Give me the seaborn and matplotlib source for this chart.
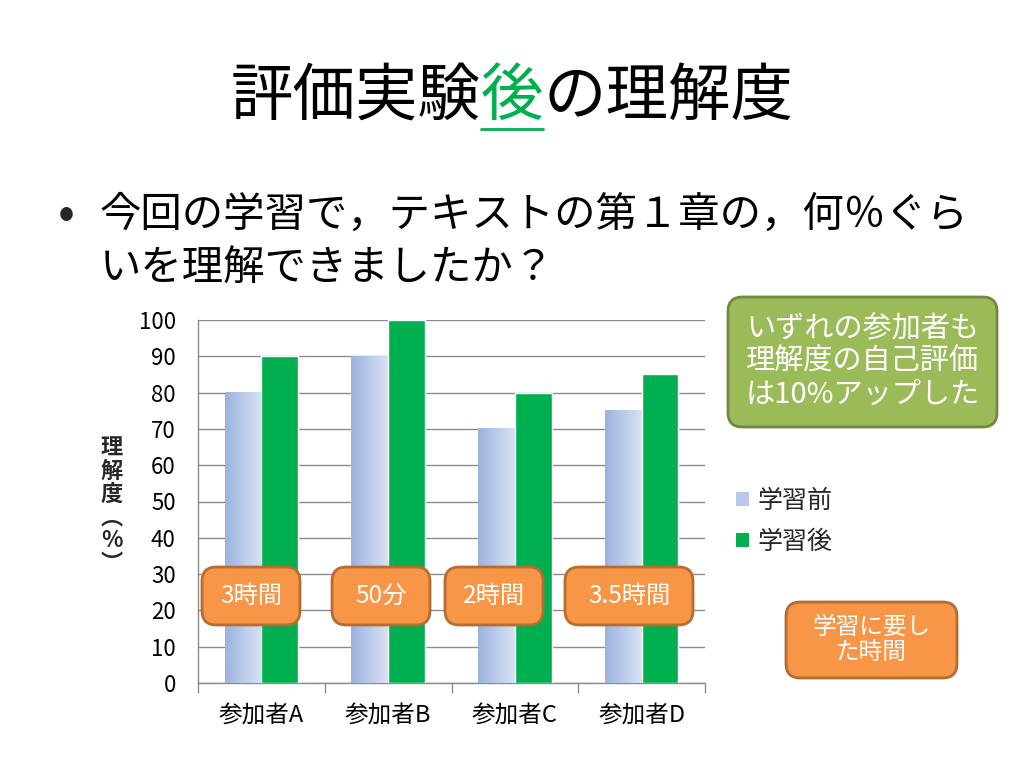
import numpy as np
import pandas as pd
import seaborn as sns
import matplotlib.pyplot as plt
from matplotlib.patches import FancyBboxPatch, Patch
from matplotlib.colors import LinearSegmentedColormap

participants = ["参加者A", "参加者B", "参加者C", "参加者D"]
before = [80, 90, 70, 75]
after = [90, 100, 80, 85]
series_names = ["学習前", "学習後"]
study_time = ["3時間", "50分", "2時間", "3.5時間"]
y_ticks = list(range(0, 101, 10))

GREEN = "#00B050"
BLUE_DARK = "#9CB2DF"
BLUE_LIGHT = "#D8E2F3"
GRID = "#8C8C8C"

df = pd.DataFrame({
    "participant": participants * 2,
    "series": [series_names[0]] * 4 + [series_names[1]] * 4,
    "value": before + after,
})

sns.set_theme(style="white")
plt.rcParams["font.family"] = ["Noto Sans CJK JP", "DejaVu Sans"]

fig = plt.figure(figsize=(10.24, 7.68), dpi=100)
ax = fig.add_axes([198 / 1024, 1 - 683 / 768, 507 / 1024, 363 / 768])

sns.barplot(data=df, x="participant", y="value", hue="series",
            palette=[BLUE_LIGHT, GREEN], width=0.58, gap=0,
            saturation=1, legend=False, ax=ax, zorder=3)

# gradient fill for the "before" bars
cmap = LinearSegmentedColormap.from_list("blue_grad", [BLUE_DARK, BLUE_LIGHT])
grad = np.linspace(0, 1, 256).reshape(1, -1)
for bar in ax.containers[0]:
    x0, w, h = bar.get_x(), bar.get_width(), bar.get_height()
    bar.set_visible(False)
    ax.imshow(grad, cmap=cmap, extent=[x0, x0 + w, 0, h], aspect="auto",
              zorder=3, interpolation="bicubic")

ax.set_xlim(-0.5, 3.5)
ax.set_ylim(0, 100)
ax.set_yticks(y_ticks)
ax.set_yticklabels([str(t) for t in y_ticks], fontsize=16, color="#000000")
ax.tick_params(axis="y", length=0, pad=16)
ax.set_xticks(range(len(participants)))
ax.set_xticklabels(participants, fontsize=17, color="#000000")
ax.set_xticks(np.arange(-0.5, 4, 1), minor=True)
ax.tick_params(axis="x", which="major", length=0, pad=15)
ax.tick_params(axis="x", which="minor", length=7, width=1, color=GRID, direction="out", bottom=True)
ax.yaxis.grid(True, color=GRID, linewidth=1, zorder=0)
ax.set_axisbelow(True)
for side in ["top", "right"]:
    ax.spines[side].set_visible(False)
for side in ["left", "bottom"]:
    ax.spines[side].set_color(GRID)
    ax.spines[side].set_linewidth(1)
ax.set_xlabel("")
ax.set_ylabel("")

# vertical y label
fig.text(112 / 1024, 1 - 506 / 768, "理\n解\n度\n︵\n%\n︶", fontsize=16,
         fontweight="bold", ha="center", va="center", linespacing=1.0)

# legend
handles = [Patch(facecolor="#B8C8EA", edgecolor="none"),
           Patch(facecolor=GREEN, edgecolor="none")]
fig.legend(handles, series_names, loc="upper left",
           bbox_to_anchor=(726 / 1024, 1 - 478 / 768), frameon=False,
           fontsize=18, handlelength=0.5, handleheight=0.5,
           handletextpad=0.35, labelspacing=0.6, borderaxespad=0)

# title with highlighted character
renderer = fig.canvas.get_renderer()
pieces = [("評価実験", "#000000"), ("後", GREEN), ("の理解度", "#000000")]
texts = []
for s, c in pieces:
    t = fig.text(0, 1 - 97 / 768, s, fontsize=45, color=c, ha="left", va="center")
    texts.append(t)
widths = [t.get_window_extent(renderer).width for t in texts]
x = 512 - sum(widths) / 2
for t, w in zip(texts, widths):
    t.set_x(x / 1024)
    x += w
ul_x0 = (512 - sum(widths) / 2 + widths[0]) / 1024
ul_x1 = ul_x0 + widths[1] / 1024
fig.add_artist(plt.Line2D([ul_x0, ul_x1], [1 - 129 / 768] * 2, color=GREEN,
                          linewidth=2, transform=fig.transFigure))

# question text
fig.text(58 / 1024, 1 - 215 / 768, "•", fontsize=36, ha="left", va="center")
fig.text(100 / 1024, 1 - 215 / 768, "今回の学習で，テキストの第１章の，何％ぐら",
         fontsize=29.8, ha="left", va="center", color="#000000")
fig.text(100 / 1024, 1 - 268 / 768, "いを理解できましたか？",
         fontsize=29.8, ha="left", va="center", color="#000000")


def rounded_box(x0, y0, x1, y1, text, face, edge, fontsize, linespacing=1.2):
    fx0, fx1 = x0 / 1024, x1 / 1024
    fy0, fy1 = 1 - y1 / 768, 1 - y0 / 768
    box = FancyBboxPatch((fx0, fy0), fx1 - fx0, fy1 - fy0,
                         boxstyle="round,pad=0,rounding_size=0.014",
                         transform=fig.transFigure, facecolor=face,
                         edgecolor=edge, linewidth=2, mutation_aspect=1024 / 768)
    fig.add_artist(box)
    fig.text((fx0 + fx1) / 2, (fy0 + fy1) / 2, text, fontsize=fontsize,
             color="white", ha="center", va="center", linespacing=linespacing)


ORANGE = "#F79646"
ORANGE_EDGE = "#B66D31"
box_spans = [(202, 300), (332, 430), (445, 543), (565, 693)]
for (bx0, bx1), label in zip(box_spans, study_time):
    rounded_box(bx0, 567, bx1, 625, label, ORANGE, ORANGE_EDGE, 17.5)

rounded_box(786, 602, 957, 678, "学習に要し\nた時間", ORANGE, ORANGE_EDGE, 17, 1.1)
rounded_box(728, 297, 997, 427, "いずれの参加者も\n理解度の自己評価\nは10%アップした",
            "#9BBB59", "#71893F", 21, 1.12)

fig.savefig("out.png", dpi=100)
